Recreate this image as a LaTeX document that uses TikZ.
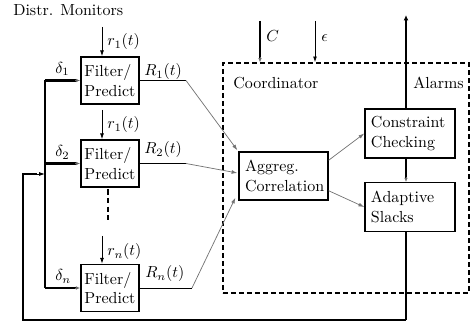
\documentclass[tikz,border=0pt]{standalone}
\usetikzlibrary{arrows.meta,calc}
\begin{document}
\begin{tikzpicture}[x=0.625pt,y=-0.625pt,
  arrowend/.style={-{Latex[length=3.6pt,width=2.4pt]}},
  filterbox/.style={draw,line width=0.9pt,text width=32pt,inner xsep=2.25pt,inner ysep=0pt,minimum height=29.4pt,align=left},
  stagebox/.style={draw,line width=0.9pt,text width=48.75pt,inner xsep=3.75pt,inner ysep=0pt,minimum height=30.4pt,align=left},
  busline/.style={line width=1.3pt},
  smalltip/.style={line width=0.4pt,draw=black!60,-{Latex[length=2.6pt,width=2.2pt]}},
  fbline/.style={line width=0.75pt},
  thinarrow/.style={line width=0.5pt,arrowend},
  grayarrow/.style={line width=0.45pt,draw=black!55,arrowend},
  lbl/.style={anchor=base west,inner sep=0pt},
  zone/.style={draw,line width=0.9pt,dash pattern=on 3pt off 2pt}
]
\useasboundingbox (0,0) rectangle (471,327);

% distributed monitors
\node[lbl] (dm) at (13,16) {Distr. Monitors};
\node[filterbox] (f1) at (110,80.5) {Filter/\\Predict};
\node[filterbox] (f2) at (110,163.5) {Filter/\\Predict};
\node[filterbox] (fn) at (110,288) {Filter/\\Predict};
\draw[line width=1.2pt,dash pattern=on 3.5pt off 2pt] (108,189) -- (108,220);

% coordinator site
\node[zone,minimum width=153.75pt,minimum height=143.75pt,inner sep=0pt] (coord) at (346,178) {};
\node[lbl] (coordlbl) at (233,89) {Coordinator};
\node[lbl] (alarmlbl) at (413,89) {Alarms};
\node[stagebox,text width=48pt,minimum height=30pt] (ag) at (283.5,176) {Aggreg.\\Correlation};
\node[stagebox] (cc) at (410,133.5) {Constraint\\Checking};
\node[stagebox] (as) at (410,207) {Adaptive\\Slacks};

% helper points
\coordinate (busx) at (45,174);
\coordinate (alarm) at (406,15);
\coordinate (fbturn) at (406,320);
\coordinate (fbleft) at (23,320);
\coordinate (rin1) at (102,27);
\coordinate (rin2) at (102,110);
\coordinate (rinn) at (102,236);
\coordinate (cin) at (260,21);
\coordinate (ein) at (315,21);
\coordinate (r1e) at (186,0);
\coordinate (rne) at (192,0);

% input streams
\draw[thinarrow] (rin1) -- (f1.north -| rin1);
\draw[thinarrow] (rin2) -- (f2.north -| rin2);
\draw[thinarrow] (rinn) -- (fn.north -| rinn);
\node[lbl] (r1lbl) at (107,46) {$r_1(t)$};
\node[lbl] (r2lbl) at (107,129) {$r_1(t)$};
\node[lbl] (rnlbl) at (107,256) {$r_n(t)$};

% slack distribution bus
\draw[busline] (f1.west -| busx) -- (fn.west -| busx);
\foreach \f in {f1,f2,fn}{
  \draw[busline] (\f.west -| busx) -- ($(\f.west)+(-4,0)$);
  \draw[smalltip] ($(\f.west)+(-5,0)$) -- (\f.west);
}
\node[lbl] (d1lbl) at (55,73.5) {$\delta_1$};
\node[lbl] (d2lbl) at (55,157) {$\delta_2$};
\node[lbl] (dnlbl) at (55,281) {$\delta_n$};

% reports to the coordinator
\draw[line width=0.5pt] (f1.east) -- (f1.east -| r1e);
\draw[line width=0.5pt] (f2.east) -- (f2.east -| r1e);
\draw[line width=0.5pt] (fn.east) -- (fn.east -| rne);
\draw[grayarrow] (f1.east -| r1e) -- ($(ag.north west)+(-1,-1)$);
\draw[grayarrow] (f2.east -| r1e) -- ($(ag.west)+(-1,-3)$);
\draw[grayarrow] (fn.east -| rne) -- ($(ag.south west)+(-3,-3)$);
\node[lbl] (R1lbl) at (144,76) {$R_1(t)$};
\node[lbl] (R2lbl) at (144,154) {$R_2(t)$};
\node[lbl] (Rnlbl) at (145,278) {$R_n(t)$};

% coordinator internals
\draw[grayarrow] ($(ag.north east)+(0,9)$) -- (cc.west);
\draw[grayarrow] ($(ag.south east)+(0,-10)$) -- (as.west);
\draw[busline] (cin) -- ($(cin |- coord.north)+(0,-4)$);
\draw[smalltip] ($(cin |- coord.north)+(0,-5)$) -- (cin |- coord.north);
\draw[thinarrow] (ein) -- (ein |- coord.north);
\node[lbl] (Clbl) at (266,42) {$C$};
\node[lbl] (elbl) at (321,42) {$\epsilon$};

% alarms and feedback
\draw[busline,-{Latex[length=3.4pt,width=3pt]}] (cc.north -| alarm) -- (alarm);
\draw[busline] (cc.south -| alarm) -- ($(as.north -| alarm)+(0,-4)$);
\draw[smalltip] ($(as.north -| alarm)+(0,-5)$) -- (as.north -| alarm);
\draw[busline] (as.south -| alarm) -- (fbturn);
\draw[fbline] (fbturn) -- (fbleft) |- ($(busx)+(-8,0)$);
\draw[thinarrow] ($(busx)+(-8,0)$) -- (busx);
\end{tikzpicture}
\end{document}
